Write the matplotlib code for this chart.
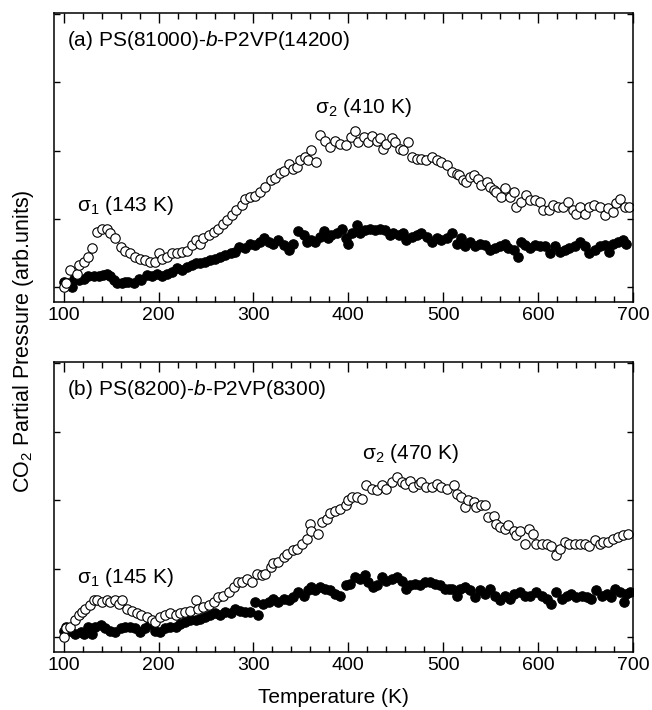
#!/usr/bin/env python3

import numpy as np
import matplotlib
matplotlib.use("Agg")
import matplotlib.pyplot as plt
from matplotlib.ticker import MultipleLocator

plt.rcParams['font.family'] = ['Liberation Sans', 'DejaVu Sans']
plt.rcParams['mathtext.fontset'] = 'custom'
plt.rcParams['mathtext.rm'] = 'Liberation Sans'
plt.rcParams['mathtext.it'] = 'Liberation Sans:italic'

#========= Data (arb. units) ================================
# (a) PS(81000)-b-P2VP(14200)
Ta_open = [100, 102, 107, 114, 116, 121, 126, 130, 135, 140, 146, 149, 154, 160, 165, 170, 175, 181, 186, 191,
           196, 200, 204, 209, 214, 219, 225, 230, 235, 239, 244, 247, 253, 258, 263, 268, 272, 277, 282, 288,
           291, 296, 302, 307, 312, 318, 323, 328, 332, 337, 342, 346, 349, 354, 358, 361, 366, 370, 375, 381,
           386, 391, 398, 403, 407, 410, 416, 421, 425, 430, 433, 437, 440, 446, 449, 454, 458, 463, 467, 472,
           477, 482, 488, 493, 498, 504, 509, 514, 517, 521, 524, 528, 532, 537, 540, 546, 549, 553, 556, 561,
           565, 570, 574, 577, 582, 587, 591, 597, 602, 605, 611, 616, 621, 626, 631, 637, 640, 644, 649, 654,
           659, 665, 670, 674, 679, 682, 686, 691, 696]
Pa_open = [0.00, 0.06, 0.25, 0.20, 0.33, 0.37, 0.45, 0.57, 0.81, 0.86, 0.86, 0.79, 0.72, 0.59, 0.54, 0.50, 0.45, 0.42, 0.40, 0.37,
           0.37, 0.50, 0.42, 0.45, 0.50, 0.50, 0.52, 0.54, 0.62, 0.69, 0.64, 0.72, 0.76, 0.81, 0.86, 0.93, 0.98, 1.06, 1.13, 1.21,
           1.30, 1.32, 1.34, 1.40, 1.47, 1.57, 1.60, 1.67, 1.71, 1.81, 1.74, 1.76, 1.86, 1.91, 1.87, 2.01, 1.84, 2.23, 2.15, 2.06,
           2.15, 2.10, 2.08, 2.20, 2.29, 2.13, 2.20, 2.13, 2.21, 2.15, 2.19, 2.03, 2.10, 2.18, 2.13, 2.03, 2.01, 2.13, 1.91, 1.88,
           1.88, 1.86, 1.91, 1.86, 1.84, 1.79, 1.69, 1.66, 1.64, 1.57, 1.55, 1.62, 1.64, 1.59, 1.50, 1.55, 1.47, 1.42, 1.40, 1.33,
           1.45, 1.33, 1.40, 1.18, 1.25, 1.35, 1.28, 1.28, 1.25, 1.13, 1.13, 1.20, 1.18, 1.18, 1.25, 1.13, 1.08, 1.18, 1.08, 1.18,
           1.20, 1.18, 1.06, 1.16, 1.11, 1.23, 1.30, 1.18, 1.18]

Ta_fill = [100, 104, 109, 111, 116, 121, 126, 132, 137, 142, 146, 149, 153, 156, 161, 165, 168, 174, 179, 182,
           188, 193, 198, 204, 209, 214, 219, 225, 230, 235, 239, 244, 249, 254, 260, 265, 270, 276, 281, 285,
           291, 296, 302, 307, 311, 316, 321, 326, 332, 337, 342, 347, 353, 356, 361, 365, 370, 374, 379, 382,
           388, 393, 397, 400, 404, 409, 412, 418, 423, 428, 433, 439, 444, 447, 453, 458, 461, 467, 472, 477,
           483, 488, 493, 498, 504, 509, 514, 519, 523, 528, 533, 539, 544, 549, 554, 560, 565, 568, 574, 579,
           582, 586, 591, 597, 602, 607, 612, 618, 623, 628, 633, 639, 644, 649, 654, 660, 665, 670, 675, 679,
           684, 689, 693]
Pa_fill = [0.08, 0.06, 0.01, 0.13, 0.11, 0.13, 0.16, 0.16, 0.16, 0.18, 0.20, 0.16, 0.11, 0.06, 0.06, 0.08, 0.08, 0.06, 0.13, 0.11,
           0.18, 0.16, 0.20, 0.16, 0.20, 0.23, 0.28, 0.25, 0.30, 0.33, 0.35, 0.35, 0.37, 0.40, 0.42, 0.45, 0.47, 0.50, 0.52, 0.59,
           0.58, 0.64, 0.62, 0.67, 0.72, 0.67, 0.64, 0.69, 0.62, 0.55, 0.64, 0.82, 0.77, 0.67, 0.69, 0.67, 0.74, 0.82, 0.72, 0.77,
           0.79, 0.86, 0.72, 0.64, 0.79, 0.91, 0.79, 0.84, 0.86, 0.84, 0.86, 0.84, 0.77, 0.79, 0.77, 0.79, 0.69, 0.74, 0.77, 0.79,
           0.74, 0.67, 0.72, 0.70, 0.73, 0.79, 0.64, 0.72, 0.60, 0.67, 0.60, 0.64, 0.62, 0.55, 0.57, 0.60, 0.64, 0.57, 0.55, 0.45,
           0.67, 0.62, 0.57, 0.62, 0.60, 0.60, 0.50, 0.60, 0.52, 0.55, 0.57, 0.60, 0.67, 0.60, 0.50, 0.55, 0.60, 0.62, 0.52, 0.64,
           0.67, 0.69, 0.64]

# (b) PS(8200)-b-P2VP(8300)
Tb_open = [100, 102, 107, 112, 116, 119, 123, 128, 132, 135, 140, 146, 149, 154, 158, 161, 167, 172, 177, 182,
           188, 193, 196, 202, 207, 212, 218, 223, 228, 233, 239, 242, 247, 253, 258, 263, 268, 274, 279, 284,
           288, 293, 298, 304, 309, 312, 318, 321, 326, 332, 335, 342, 346, 351, 356, 360, 361, 368, 372, 377,
           381, 386, 391, 397, 400, 404, 409, 414, 419, 425, 430, 435, 440, 446, 451, 456, 460, 465, 468, 474,
           477, 482, 488, 493, 498, 504, 511, 514, 519, 523, 526, 532, 535, 540, 544, 547, 553, 556, 560, 565,
           568, 574, 577, 581, 586, 590, 595, 598, 604, 609, 614, 619, 623, 628, 633, 639, 644, 649, 654, 660,
           665, 668, 674, 679, 684, 689, 695]
Pb_open = [0.00, 0.13, 0.15, 0.25, 0.32, 0.37, 0.42, 0.47, 0.54, 0.54, 0.52, 0.54, 0.52, 0.54, 0.49, 0.54, 0.42, 0.39, 0.35, 0.32,
           0.30, 0.25, 0.22, 0.30, 0.32, 0.35, 0.32, 0.35, 0.37, 0.39, 0.54, 0.42, 0.44, 0.47, 0.52, 0.59, 0.61, 0.66, 0.73, 0.81,
           0.81, 0.86, 0.81, 0.93, 0.91, 0.93, 1.03, 1.08, 1.10, 1.17, 1.22, 1.27, 1.29, 1.37, 1.44, 1.66, 1.56, 1.51, 1.68, 1.73,
           1.81, 1.85, 1.88, 1.93, 2.00, 2.05, 2.05, 2.02, 2.22, 2.17, 2.15, 2.22, 2.17, 2.27, 2.34, 2.27, 2.24, 2.29, 2.19, 2.24,
           2.27, 2.19, 2.19, 2.24, 2.20, 2.17, 2.22, 2.10, 2.05, 1.90, 2.00, 1.98, 1.90, 1.93, 1.93, 1.76, 1.78, 1.66, 1.61, 1.59,
           1.64, 1.56, 1.49, 1.56, 1.37, 1.59, 1.51, 1.37, 1.37, 1.37, 1.34, 1.20, 1.29, 1.39, 1.37, 1.37, 1.37, 1.37, 1.34, 1.42,
           1.37, 1.39, 1.39, 1.44, 1.46, 1.49, 1.51]

Tb_fill = [100, 102, 107, 112, 118, 121, 126, 130, 133, 139, 144, 149, 154, 160, 165, 170, 175, 181, 186, 191,
           196, 202, 207, 212, 218, 223, 228, 233, 239, 244, 249, 254, 260, 265, 270, 276, 281, 286, 291, 296,
           302, 305, 310, 316, 321, 326, 332, 337, 342, 347, 353, 358, 361, 365, 370, 375, 381, 386, 391, 397,
           402, 407, 412, 418, 421, 426, 430, 435, 440, 446, 451, 456, 461, 465, 470, 475, 481, 486, 491, 497,
           502, 506, 509, 514, 518, 523, 528, 533, 539, 544, 549, 554, 560, 565, 570, 575, 581, 586, 591, 598,
           604, 609, 614, 619, 625, 630, 635, 640, 646, 651, 656, 661, 667, 672, 677, 681, 686, 690, 693, 697]
Pb_fill = [0.10, 0.15, 0.10, 0.05, 0.08, 0.05, 0.15, 0.05, 0.15, 0.18, 0.13, 0.10, 0.08, 0.13, 0.15, 0.15, 0.13, 0.08, 0.13, 0.20,
           0.10, 0.08, 0.13, 0.15, 0.15, 0.20, 0.22, 0.25, 0.25, 0.27, 0.30, 0.32, 0.35, 0.32, 0.37, 0.35, 0.42, 0.39, 0.37, 0.37,
           0.52, 0.32, 0.49, 0.52, 0.56, 0.52, 0.56, 0.54, 0.59, 0.66, 0.61, 0.69, 0.73, 0.69, 0.73, 0.71, 0.69, 0.64, 0.61, 0.76,
           0.78, 0.88, 0.86, 0.91, 0.81, 0.73, 0.76, 0.88, 0.83, 0.86, 0.88, 0.83, 0.71, 0.76, 0.78, 0.76, 0.81, 0.81, 0.78, 0.76,
           0.71, 0.70, 0.71, 0.61, 0.71, 0.73, 0.69, 0.59, 0.69, 0.64, 0.71, 0.61, 0.54, 0.61, 0.56, 0.64, 0.66, 0.61, 0.61, 0.66,
           0.61, 0.56, 0.49, 0.66, 0.56, 0.61, 0.64, 0.59, 0.61, 0.59, 0.56, 0.69, 0.61, 0.64, 0.59, 0.71, 0.66, 0.52, 0.64, 0.66]

panels = [
    ("(a) PS(81000)-$b$-P2VP(14200)", Ta_open, Pa_open, Ta_fill, Pa_fill,
     ("σ$_1$ (143 K)", 114, 1.20), ("σ$_2$ (410 K)", 365, 2.63)),
    ("(b) PS(8200)-$b$-P2VP(8300)", Tb_open, Pb_open, Tb_fill, Pb_fill,
     ("σ$_1$ (145 K)", 114, 0.88), ("σ$_2$ (470 K)", 414, 2.69)),
]

fig = plt.figure(figsize=(6.52, 7.10), dpi=100)
rects = [[0.083, 0.575, 0.888, 0.407], [0.083, 0.082, 0.888, 0.408]]
fs = 15

for rect, (title, To, Po, Tf, Pf, s1, s2) in zip(rects, panels):
    ax = fig.add_axes(rect)
    ax.plot(Tf, Pf, 'o', ms=6.8, mfc='black', mec='black', mew=0.8)
    ax.plot(To, Po, 'o', ms=6.8, mfc='white', mec='black', mew=0.8)
    ax.set_xlim(90, 700)
    ax.set_ylim(-0.21, 4.02)
    ax.xaxis.set_major_locator(MultipleLocator(100))
    ax.xaxis.set_minor_locator(MultipleLocator(20))
    ax.set_yticks([0, 1, 2, 3, 4])
    ax.set_yticklabels([])
    ax.tick_params(which='both', direction='in', top=True, right=True, labelsize=14)
    ax.tick_params(axis='x', which='major', length=7, width=1)
    ax.tick_params(axis='x', which='minor', length=4, width=1)
    ax.tick_params(axis='y', which='major', length=4, width=1)
    for sp in ax.spines.values():
        sp.set_linewidth(1.1)
    ax.text(0.022, 0.905, title, transform=ax.transAxes, fontsize=fs, va='center')
    for lab, tx, ty in (s1, s2):
        ax.text(tx, ty, lab, fontsize=fs, va='center')

fig.text(0.511, 0.018, "Temperature (K)", fontsize=fs, ha='center', va='center')
fig.text(0.036, 0.52, "CO$_2$ Partial Pressure (arb.units)", rotation=90,
         fontsize=15.5, ha='center', va='center')

plt.savefig("out.png", dpi=100)
